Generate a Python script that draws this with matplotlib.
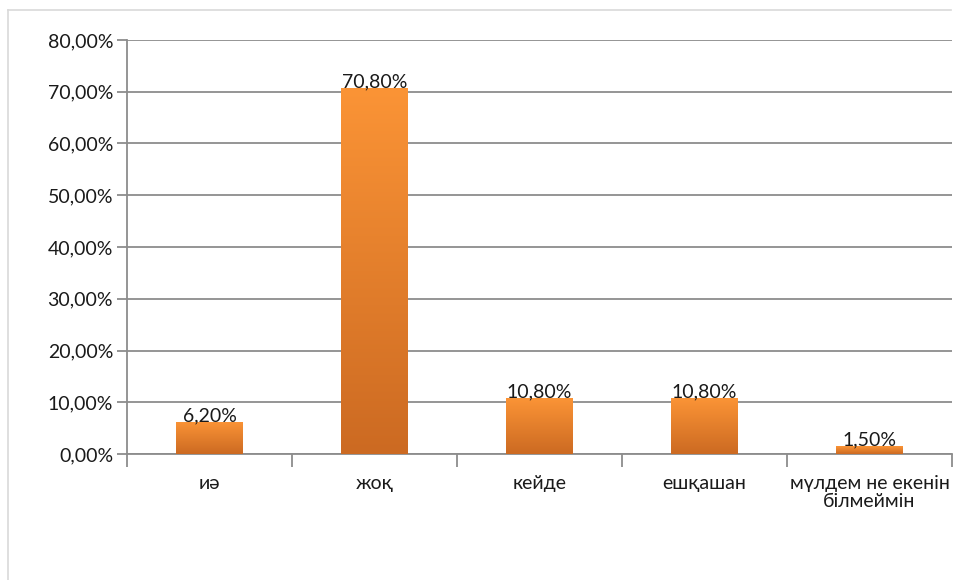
import numpy as np
import matplotlib
matplotlib.use("Agg")
import matplotlib.pyplot as plt
from matplotlib.colors import LinearSegmentedColormap
from matplotlib.lines import Line2D
from matplotlib.ticker import FixedLocator

categories = ["иә", "жоқ", "кейде", "ешқашан", "мүлдем не екенін\nбілмеймін"]
values = [6.20, 70.80, 10.80, 10.80, 1.50]
value_labels = ["6,20%", "70,80%", "10,80%", "10,80%", "1,50%"]
y_ticks = [0, 10, 20, 30, 40, 50, 60, 70, 80]
y_tick_labels = ["0,00%", "10,00%", "20,00%", "30,00%", "40,00%",
                 "50,00%", "60,00%", "70,00%", "80,00%"]

plt.rcParams["font.family"] = ["Lato", "DejaVu Sans"]
FS = 14

W, H = 955, 580
fig = plt.figure(figsize=(W / 100, H / 100), dpi=100)
ax = fig.add_axes([127 / W, 1 - 454 / H, (952 - 127) / W, (454 - 40) / H])

# outer chart frame (top and left edges visible)
frame_kw = dict(transform=fig.transFigure, color="#D9D9D9", linewidth=1.2)
fig.lines.append(Line2D([8 / W, 951 / W], [1 - 10 / H, 1 - 10 / H], **frame_kw))
fig.lines.append(Line2D([8 / W, 8 / W], [1 - 10 / H, 0], **frame_kw))

x = np.arange(len(categories))
bars = ax.bar(x, values, width=0.405, color="none", zorder=3)

cmap = LinearSegmentedColormap.from_list("bar", ["#CC6A22", "#FB9436"])
grad = np.linspace(0, 1, 256).reshape(-1, 1)
for b in bars:
    x0, y0 = b.get_x(), b.get_y()
    w, h = b.get_width(), b.get_height()
    im = ax.imshow(grad, cmap=cmap, origin="lower", aspect="auto",
                   extent=[x0, x0 + w, y0, y0 + h], zorder=3)
    im.set_clip_path(b)

for xi, v, lab in zip(x, values, value_labels):
    ax.text(xi, v - 0.5, lab, ha="center", va="bottom", fontsize=FS,
            color="#1a1a1a", zorder=4)

ax.set_xlim(-0.5, len(categories) - 0.5)
ax.set_ylim(0, 80)
ax.set_yticks(y_ticks)
ax.set_yticklabels(y_tick_labels, fontsize=FS, color="#1a1a1a")
ax.set_xticks(x)
ax.set_xticklabels(categories, fontsize=FS, color="#1a1a1a", linespacing=1.1)
ax.tick_params(axis="x", length=0, pad=15)
ax.xaxis.set_minor_locator(FixedLocator(np.arange(-0.5, len(categories), 1)))
ax.tick_params(axis="x", which="minor", length=9, width=1.3, color="#8C8C8C")
ax.tick_params(axis="y", length=7, width=1.3, color="#8C8C8C", pad=3)

ax.grid(axis="y", color="#8C8C8C", linewidth=1.3, zorder=0)
ax.set_axisbelow(True)
for s in ["top", "right"]:
    ax.spines[s].set_visible(False)
for s in ["left", "bottom"]:
    ax.spines[s].set_color("#8C8C8C")
    ax.spines[s].set_linewidth(1.3)

fig.savefig("out.png", dpi=100, facecolor="white")
